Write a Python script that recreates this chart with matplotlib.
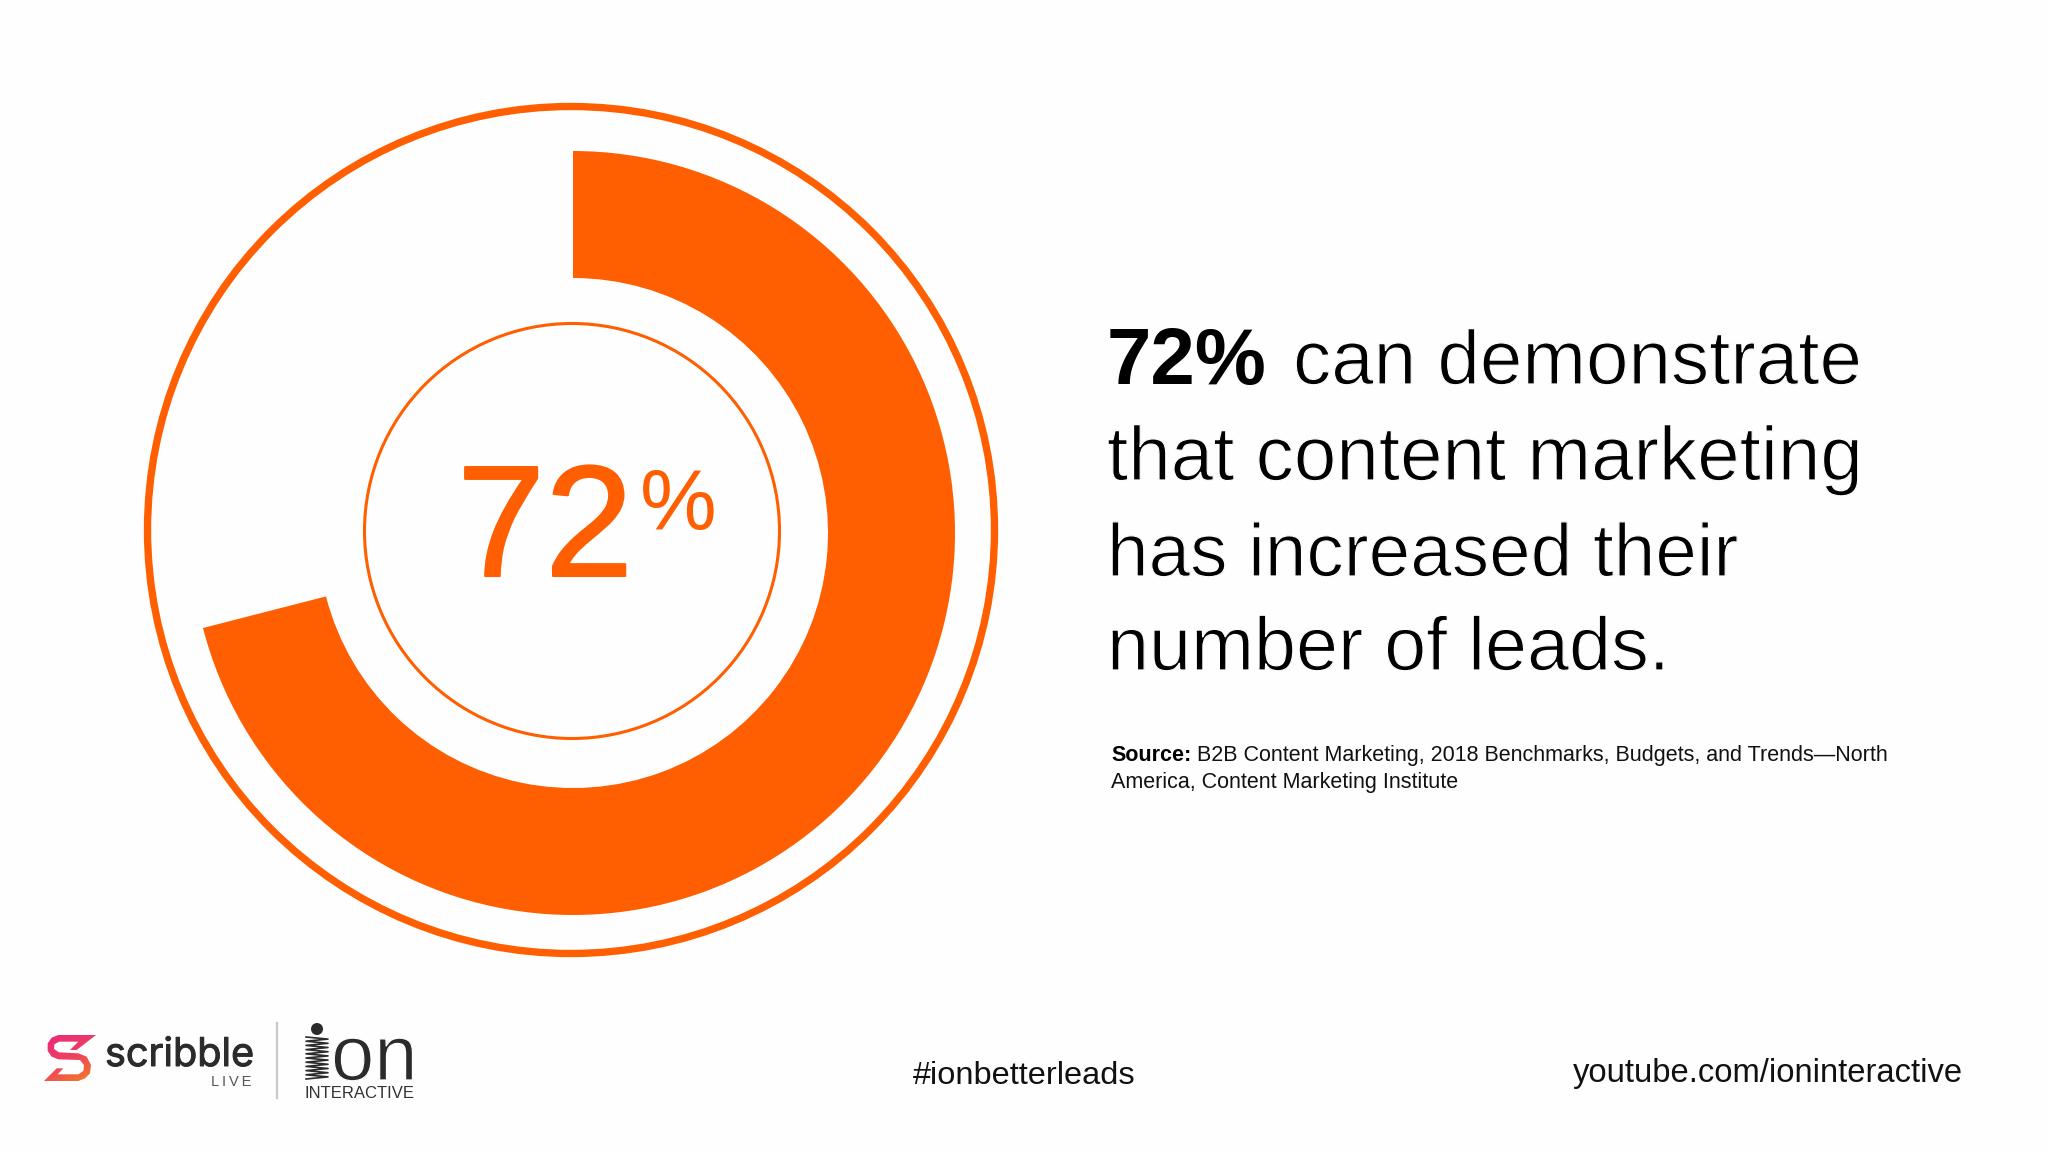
import numpy as np
import matplotlib
matplotlib.use('Agg')
import matplotlib.pyplot as plt
import matplotlib.patheffects as pe
from matplotlib.colors import LinearSegmentedColormap
from matplotlib.patches import Circle, Polygon

# values
pct_label = '72'
arc_values = [71.0, 29.0]      # drawn share, the arc stops a bit short of 72
heading_bold = '72%'
heading_rest = 'can demonstrate'
heading_lines = ['that content marketing', 'has increased their', 'number of leads.']
source_bold = 'Source:'
source_first = 'B2B Content Marketing, 2018 Benchmarks, Budgets, and Trends\u2014North'
source_second = 'America, Content Marketing Institute'
hashtag = '#ionbetterleads'
channel = 'youtube.com/ioninteractive'

ORANGE = '#ff5f00'
BG = '#fefefe'
W, H = 2048, 1152

plt.rcParams['font.family'] = ['Liberation Sans', 'DejaVu Sans']

fig = plt.figure(figsize=(W / 100, H / 100), dpi=100, facecolor=BG)

# pixel axes for everything but the donut
ax = fig.add_axes([0, 0, 1, 1])
ax.set_xlim(0, W)
ax.set_ylim(H, 0)
ax.axis('off')

# donut
cx, cy, r_out, r_in = 573, 533, 382, 255
ax_d = fig.add_axes([(cx - r_out) / W, 1 - (cy + r_out) / H, 2 * r_out / W, 2 * r_out / H])
ax_d.pie(arc_values, colors=[ORANGE, 'none'], startangle=90, counterclock=False, radius=1,
         wedgeprops={'width': (r_out - r_in) / r_out, 'linewidth': 0})
ax_d.set_xlim(-1, 1)
ax_d.set_ylim(-1, 1)
ax_d.axis('off')
ax_d.patch.set_alpha(0)

# rings
ax.add_patch(Circle((571, 530), 423.5, fill=False, ec=ORANGE, lw=5.3))
ax.add_patch(Circle((572, 531), 207.5, fill=False, ec=ORANGE, lw=2.2))

# number in the middle
thick = [pe.withStroke(linewidth=1.5, foreground=ORANGE)]
ax.text(457, 576, pct_label, fontsize=114, color=ORANGE, ha='left', va='baseline', path_effects=thick)
ax.text(640, 530, '%', fontsize=62, color=ORANGE, ha='left', va='baseline')

# heading
thin_txt = [pe.Normal(), pe.Stroke(linewidth=0.9, foreground=BG)]
ax.text(1107, 384, heading_bold, fontsize=57.5, color='black', fontweight='bold', va='baseline')
ax.text(1293, 384, heading_rest, fontsize=55, color='black', va='baseline', path_effects=thin_txt)
for y, size, line in zip([480, 576, 670], [55, 53.8, 54.4], heading_lines):
    ax.text(1107, y, line, fontsize=size, color='black', va='baseline', path_effects=thin_txt)

# source
ax.text(1111, 761, source_bold, fontsize=15.5, color='black', fontweight='bold', va='baseline')
ax.text(1197, 761, source_first, fontsize=15.5, color='#111111', va='baseline')
ax.text(1111, 788, source_second, fontsize=15.5, color='#111111', va='baseline')

# footer
ax.text(913, 1084, hashtag, fontsize=23.4, color='#111111', va='baseline')
ax.text(1573, 1082, channel, fontsize=23.55, color='#111111', va='baseline')

# scribble logo, gradient clipped to the S
s_crop = np.array([(70, 30), (183, 30), (125, 75), (105, 75), (130, 50), (72, 50), (58, 58), (57, 72),
                   (72, 82), (130, 85), (155, 95), (168, 120), (165, 145), (150, 160), (130, 168),
                   (27, 168), (65, 130), (85, 130), (68, 148), (130, 148), (145, 138), (147, 120),
                   (135, 105), (70, 103), (50, 95), (38, 78), (38, 55), (50, 38)])
s_pts = s_crop / 3 + [35, 1025]
s_patch = Polygon(s_pts, closed=True, fc='none', ec='none')
ax.add_patch(s_patch)
gx, gy = np.meshgrid(np.linspace(0, 1, 64), np.linspace(0, 1, 64))
cmap = LinearSegmentedColormap.from_list('s', ['#e8287e', '#ee4060', '#f58220'])
im = ax.imshow(0.65 * gy + 0.35 * gx, extent=(43, 96, 1082, 1034), cmap=cmap, aspect='auto', zorder=2)
im.set_clip_path(s_patch)
ax.set_xlim(0, W)
ax.set_ylim(H, 0)

ax.text(105, 1066, 'scribble', fontsize=28.5, family=['Inter', 'DejaVu Sans'], color='#2b2b2b', va='baseline',
        path_effects=[pe.withStroke(linewidth=0.7, foreground='#2b2b2b')])
ax.text(211, 1086, 'L\u2009I\u2009V\u2009E', fontsize=10.5, color='#555555', va='baseline')
ax.plot([277, 277], [1023, 1098], color='#c9c9c9', lw=1.6)

# ion logo
ax.add_patch(Circle((317, 1029), 6, fc='#2b2b2b', ec='none'))
zig_y = np.linspace(1037, 1079, 21)
zig_x = np.where(np.arange(21) % 2 == 0, 306, 328)
ax.plot(zig_x, zig_y, color='#2b2b2b', lw=1.2)
ax.text(331, 1080, 'on', fontsize=56, color='#2b2b2b', va='baseline', path_effects=thin_txt)
ax.text(305, 1098, 'INTERACTIVE', fontsize=12, color='#333333', va='baseline')

fig.savefig('out.png', dpi=100, facecolor=fig.get_facecolor())
